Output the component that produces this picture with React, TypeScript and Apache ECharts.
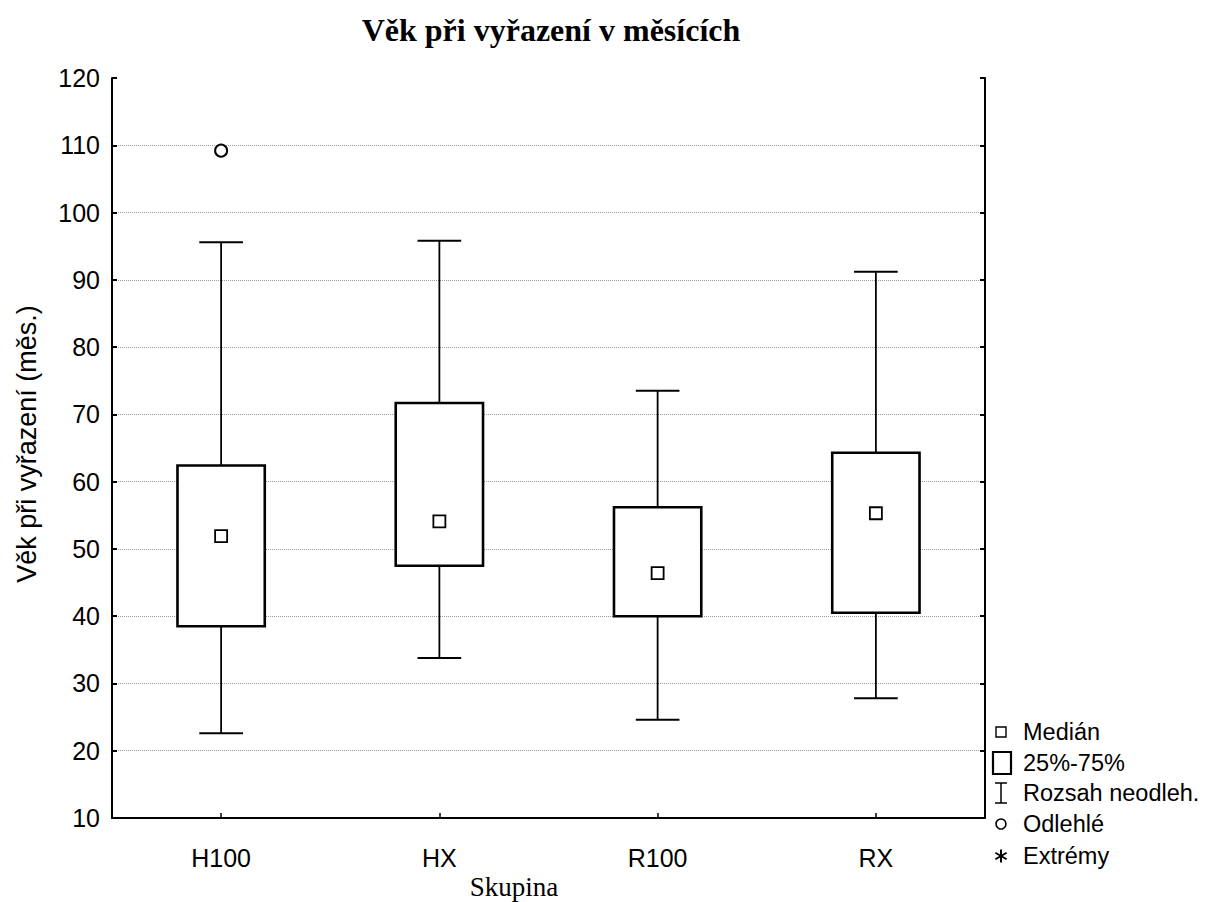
import React, { useEffect, useRef } from 'react';
import * as echarts from 'echarts';

const categories = ['H100', 'HX', 'R100', 'RX'];
const whiskerLow = [22.6, 33.8, 24.6, 27.8];
const quartile1 = [38.5, 47.5, 40.0, 40.5];
const medians = [51.9, 54.1, 46.4, 55.3];
const quartile3 = [62.4, 71.7, 56.2, 64.3];
const whiskerHigh = [95.6, 95.8, 73.5, 91.2];
const outliers: [number, number][] = [[0, 109.2]];

const titleText = 'Věk při vyřazení v měsících';
const yName = 'Věk při vyřazení (měs.)';
const xName = 'Skupina';
const legendLabels = ['Medián', '25%-75%', 'Rozsah neodleh.', 'Odlehlé', 'Extrémy'];

const SANS = 'Liberation Sans, Arial, sans-serif';
const SERIF = 'Liberation Serif, Times New Roman, serif';

export default function App() {
  const ref = useRef<HTMLDivElement>(null);
  useEffect(() => {
    document.body.style.margin = '0';
    const chart = echarts.init(ref.current!, undefined, { renderer: 'svg' });
    const boxData = categories.map((_, i) => [
      i,
      whiskerLow[i],
      quartile1[i],
      medians[i],
      quartile3[i],
      whiskerHigh[i],
    ]);
    const lineStyle = { stroke: '#000', lineWidth: 1.8 };
    const legendX = 1001;
    const legendTextX = 1023;
    const legendY = [732, 763, 793, 824, 856];
    const legendFont = 23.5;
    const graphics: any[] = [];
    // Medián icon
    graphics.push({ type: 'rect', shape: { x: legendX - 5, y: legendY[0] - 5, width: 10, height: 10 }, style: { fill: '#fff', stroke: '#000', lineWidth: 1.4 } });
    // 25-75 icon
    graphics.push({ type: 'rect', shape: { x: legendX - 8, y: legendY[1] - 11, width: 18, height: 22 }, style: { fill: '#fff', stroke: '#000', lineWidth: 2.2 } });
    // Range icon
    graphics.push({ type: 'line', shape: { x1: legendX - 6, y1: legendY[2] - 10, x2: legendX + 6, y2: legendY[2] - 10 }, style: { stroke: '#000', lineWidth: 1.5 } });
    graphics.push({ type: 'line', shape: { x1: legendX, y1: legendY[2] - 10, x2: legendX, y2: legendY[2] + 10 }, style: { stroke: '#000', lineWidth: 1.5 } });
    graphics.push({ type: 'line', shape: { x1: legendX - 6, y1: legendY[2] + 10, x2: legendX + 6, y2: legendY[2] + 10 }, style: { stroke: '#000', lineWidth: 1.5 } });
    // Outlier icon
    graphics.push({ type: 'circle', shape: { cx: legendX, cy: legendY[3], r: 5 }, style: { fill: '#fff', stroke: '#000', lineWidth: 1.6 } });
    // Extreme icon (asterisk)
    const ar = 6.5;
    [90, 30, -30].forEach((deg) => {
      const a = (deg * Math.PI) / 180;
      graphics.push({
        type: 'line',
        shape: { x1: legendX - ar * Math.cos(a), y1: legendY[4] - ar * Math.sin(a), x2: legendX + ar * Math.cos(a), y2: legendY[4] + ar * Math.sin(a) },
        style: { stroke: '#000', lineWidth: 2 },
      });
    });
    legendLabels.forEach((t, i) => {
      graphics.push({
        type: 'text',
        x: legendTextX,
        y: legendY[i],
        style: { text: t, fontFamily: SANS, fontSize: legendFont, fill: '#000', align: 'left', verticalAlign: 'middle' },
      });
    });
    // x axis name
    graphics.push({
      type: 'text',
      x: 514,
      y: 887,
      style: { text: xName, fontFamily: SERIF, fontSize: 27, fill: '#000', align: 'center', verticalAlign: 'middle' },
    });

    const yAxisCommon = {
      type: 'value',
      min: 10,
      max: 120,
      interval: 10,
      axisLine: { show: true, lineStyle: { color: '#000', width: 2 } },
      axisTick: { show: true, inside: true, length: 5, lineStyle: { color: '#000', width: 2 } },
    };

    chart.setOption({
      animation: false,
      backgroundColor: '#fff',
      title: {
        text: titleText,
        left: 546,
        top: 9,
        textAlign: 'center',
        textStyle: { fontFamily: SERIF, fontWeight: 'bold', fontSize: 32, color: '#000' },
      },
      grid: { left: 112, right: 242, top: 78, bottom: 84, containLabel: false },
      xAxis: {
        type: 'category',
        data: categories,
        axisLine: { lineStyle: { color: '#000', width: 2 } },
        axisTick: { show: true, inside: true, length: 5, alignWithLabel: true, lineStyle: { color: '#000', width: 1.5 } },
        axisLabel: { fontFamily: SANS, fontSize: 25, color: '#000', margin: 27 },
        splitLine: { show: false },
      },
      yAxis: [
        {
          ...yAxisCommon,
          position: 'left',
          name: yName,
          nameLocation: 'middle',
          nameRotate: 90,
          nameGap: 72,
          nameTextStyle: { fontFamily: SANS, fontSize: 27, color: '#000', padding: [0, 0, 0, 8] },
          axisLabel: { fontFamily: SANS, fontSize: 25, color: '#000', margin: 12 },
          splitLine: {
            show: true,
            showMinLine: false,
            showMaxLine: false,
            lineStyle: { color: '#9a9a9a', type: [1, 1], width: 1 },
          },
        },
        {
          ...yAxisCommon,
          position: 'right',
          axisLabel: { show: false },
          splitLine: { show: false },
        },
      ],
      series: [
        {
          type: 'custom',
          name: '25%-75%',
          data: boxData,
          encode: { x: 0, y: [1, 2, 3, 4, 5] },
          renderItem: (params: any, api: any) => {
            const i = api.value(0);
            const pLow = api.coord([i, api.value(1)]);
            const pQ1 = api.coord([i, api.value(2)]);
            const pQ3 = api.coord([i, api.value(4)]);
            const pHigh = api.coord([i, api.value(5)]);
            const band = api.size([1, 0])[0];
            const bw = band * 0.4;
            const cw = band * 0.2;
            const cx = pLow[0];
            return {
              type: 'group',
              children: [
                { type: 'line', shape: { x1: cx, y1: pHigh[1], x2: cx, y2: pQ3[1] }, style: lineStyle },
                { type: 'line', shape: { x1: cx, y1: pQ1[1], x2: cx, y2: pLow[1] }, style: lineStyle },
                { type: 'line', shape: { x1: cx - cw / 2, y1: pHigh[1], x2: cx + cw / 2, y2: pHigh[1] }, style: { stroke: '#000', lineWidth: 2 } },
                { type: 'line', shape: { x1: cx - cw / 2, y1: pLow[1], x2: cx + cw / 2, y2: pLow[1] }, style: { stroke: '#000', lineWidth: 2 } },
                {
                  type: 'rect',
                  shape: { x: cx - bw / 2, y: pQ3[1], width: bw, height: pQ1[1] - pQ3[1] },
                  style: { fill: '#fff', stroke: '#000', lineWidth: 2.6 },
                },
              ],
            };
          },
          z: 2,
        },
        {
          type: 'scatter',
          name: 'Medián',
          data: medians,
          symbol: 'rect',
          symbolSize: 12,
          itemStyle: { color: '#fff', borderColor: '#000', borderWidth: 1.8, opacity: 1 },
          z: 3,
        },
        {
          type: 'scatter',
          name: 'Odlehlé',
          data: outliers,
          symbol: 'circle',
          symbolSize: 12,
          itemStyle: { color: '#fff', borderColor: '#000', borderWidth: 2, opacity: 1 },
          z: 3,
        },
      ],
      graphic: graphics,
    });
    return () => chart.dispose();
  }, []);
  return <div ref={ref} style={{ width: 1227, height: 902 }} />;
}
